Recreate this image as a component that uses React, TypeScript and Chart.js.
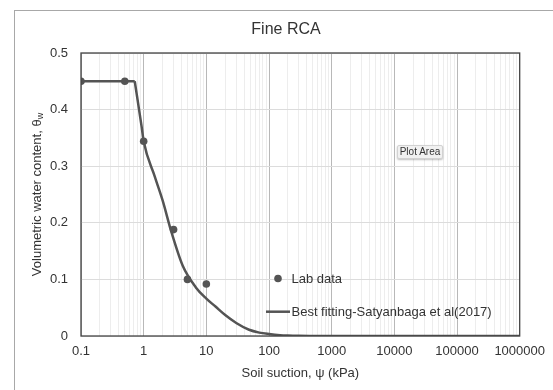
import React, { useEffect, useRef } from 'react';
import { Chart, registerables } from 'chart.js';

Chart.register(...registerables);

const CHART_TITLE = 'Fine RCA';
const X_TITLE = 'Soil suction, ψ (kPa)';
const Y_TITLE_MAIN = 'Volumetric water content, θ';
const Y_TITLE_SUB = 'w';

const LAB_LABEL = 'Lab data';
const LAB_SUCTION = [0.1, 0.5, 1, 3, 5, 10];
const LAB_THETA = [0.45, 0.45, 0.344, 0.188, 0.1, 0.092];

const FIT_LABEL = 'Best fitting-Satyanbaga et al(2017)';
// saturated plateau up to the air-entry point
const FIT_PLATEAU_SUCTION = [0.1, 0.72];
const FIT_PLATEAU_THETA = [0.45, 0.45];
// desaturation part of the fitted curve
const FIT_SUCTION = [0.72, 0.93, 1, 1.5, 2, 2.8, 4.2, 6.9, 10, 14, 20, 30, 48, 70, 100, 150, 200, 300, 500, 1000, 10000, 100000, 1000000];
const FIT_THETA = [0.45, 0.369, 0.344, 0.282, 0.24, 0.182, 0.124, 0.085, 0.066, 0.052, 0.037, 0.023, 0.011, 0.006, 0.0035, 0.0015, 0.0008, 0.0003, 0.0001, 0, 0, 0, 0];

const X_TICK_LABELS = ['0.1', '1', '10', '100', '1000', '10000', '100000', '1000000'];
const X_MINOR_MULTIPLIERS = [2, 3, 4, 5, 6, 7, 8, 9];
const Y_TICK_LABELS = ['0', '0.1', '0.2', '0.3', '0.4', '0.5'];

const FONT = '"Liberation Sans", Arial, Helvetica, sans-serif';
const INK = '#333333';
const MARK = '#545454';

type Tick = { value: number; major: boolean; label: string };

function buildXTicks(): Tick[] {
  const out: Tick[] = [];
  const majors = X_TICK_LABELS.map(Number);
  majors.forEach((m, i) => {
    out.push({ value: m, major: true, label: X_TICK_LABELS[i] });
    if (i < majors.length - 1) {
      X_MINOR_MULTIPLIERS.forEach((k) => {
        out.push({ value: Number((m * k).toPrecision(6)), major: false, label: '' });
      });
    }
  });
  return out;
}

const decorPlugin = {
  id: 'decor',
  afterDraw(chart: any) {
    const { ctx, chartArea: a } = chart;
    ctx.save();
    // plot border
    ctx.strokeStyle = '#444444';
    ctx.lineWidth = 1.3;
    ctx.strokeRect(a.left, a.top, a.right - a.left, a.bottom - a.top);

    ctx.fillStyle = INK;
    ctx.textBaseline = 'middle';

    // title
    ctx.font = `16px ${FONT}`;
    ctx.textAlign = 'center';
    ctx.fillText(CHART_TITLE, 286, 30);

    // x title
    ctx.font = `13px ${FONT}`;
    ctx.fillText(X_TITLE, (a.left + a.right) / 2, 373);

    // y title (rotated, with subscript)
    ctx.save();
    ctx.translate(37, (a.top + a.bottom) / 2);
    ctx.rotate(-Math.PI / 2);
    ctx.font = `13px ${FONT}`;
    const wMain = ctx.measureText(Y_TITLE_MAIN).width;
    ctx.font = `9px ${FONT}`;
    const wSub = ctx.measureText(Y_TITLE_SUB).width;
    const total = wMain + wSub;
    ctx.textAlign = 'left';
    ctx.font = `13px ${FONT}`;
    ctx.fillText(Y_TITLE_MAIN, -total / 2, 0);
    ctx.font = `9px ${FONT}`;
    ctx.fillText(Y_TITLE_SUB, -total / 2 + wMain, 4);
    ctx.restore();

    // legend
    const ds = chart.data.datasets;
    ctx.font = `13px ${FONT}`;
    ctx.textAlign = 'left';
    ctx.fillStyle = MARK;
    ctx.beginPath();
    ctx.arc(278, 278.5, 3.8, 0, Math.PI * 2);
    ctx.fill();
    ctx.fillStyle = INK;
    ctx.fillText(ds[0].label, 291.5, 279);

    ctx.strokeStyle = MARK;
    ctx.lineWidth = 2.5;
    ctx.beginPath();
    ctx.moveTo(266, 311.7);
    ctx.lineTo(290, 311.7);
    ctx.stroke();
    ctx.fillText(ds[1].label, 291.5, 312);

    ctx.restore();
  },
};

export default function App() {
  const canvasRef = useRef<HTMLCanvasElement | null>(null);

  useEffect(() => {
    if (!canvasRef.current) return;
    const xTicks = buildXTicks();
    const lineStyle = {
      type: 'line',
      borderColor: MARK,
      borderWidth: 2.5,
      pointRadius: 0,
      fill: false,
      order: 1,
    };
    const chart = new Chart(canvasRef.current, {
      type: 'scatter',
      data: {
        datasets: [
          {
            label: LAB_LABEL,
            data: LAB_SUCTION.map((x, i) => ({ x, y: LAB_THETA[i] })),
            backgroundColor: MARK,
            borderWidth: 0,
            pointRadius: 3.8,
            showLine: false,
            order: 0,
          },
          {
            ...lineStyle,
            label: FIT_LABEL,
            data: FIT_SUCTION.map((x, i) => ({ x, y: FIT_THETA[i] })),
            cubicInterpolationMode: 'monotone',
          } as any,
          {
            ...lineStyle,
            label: FIT_LABEL,
            data: FIT_PLATEAU_SUCTION.map((x, i) => ({ x, y: FIT_PLATEAU_THETA[i] })),
            tension: 0,
          } as any,
        ],
      },
      options: {
        animation: false,
        responsive: false,
        devicePixelRatio: 1,
        layout: { padding: { left: 0, top: 53, right: 32, bottom: 0 } },
        plugins: {
          legend: { display: false },
          title: { display: false },
          tooltip: { enabled: false },
        },
        scales: {
          x: {
            type: 'logarithmic',
            min: 0.1,
            max: 1000000,
            afterBuildTicks: (scale: any) => {
              scale.ticks = xTicks.map((t) => ({ value: t.value, major: t.major }));
            },
            afterFit: (scale: any) => {
              scale.height = 54;
            },
            ticks: {
              autoSkip: false,
              maxRotation: 0,
              minRotation: 0,
              padding: 8,
              color: INK,
              font: { size: 13, family: FONT },
              callback: (_v: any, index: number) => (xTicks[index] ? xTicks[index].label : ''),
            },
            grid: {
              drawTicks: false,
              lineWidth: 1,
              color: (c: any) => (c.tick && c.tick.major ? '#b8b8b8' : '#ededed'),
            },
            border: { display: false },
          },
          y: {
            type: 'linear',
            min: 0,
            max: 0.5,
            afterFit: (scale: any) => {
              scale.width = 81;
            },
            ticks: {
              stepSize: 0.1,
              padding: 13,
              color: INK,
              font: { size: 13, family: FONT },
              callback: (_v: any, index: number) => Y_TICK_LABELS[index] ?? '',
            },
            grid: {
              drawTicks: false,
              color: '#dcdcdc',
              lineWidth: 1,
            },
            border: { display: false },
          },
        },
      },
      plugins: [decorPlugin],
    });
    return () => chart.destroy();
  }, []);

  return (
    <div
      style={{
        position: 'fixed',
        left: 0,
        top: 0,
        width: 553,
        height: 390,
        background: '#ffffff',
        overflow: 'hidden',
      }}
    >
      <div
        style={{
          position: 'absolute',
          left: 14,
          top: 10,
          width: 600,
          height: 500,
          border: '1px solid #a8a8a8',
          boxSizing: 'border-box',
        }}
      />
      <canvas
        ref={canvasRef}
        width={553}
        height={390}
        style={{ position: 'absolute', left: 0, top: 0, width: 553, height: 390 }}
      />
      <div
        style={{
          position: 'absolute',
          left: 397,
          top: 145,
          width: 46,
          height: 14,
          boxSizing: 'border-box',
          background: '#f1f1f1',
          border: '1px solid #d2d2d2',
          borderRadius: 2,
          boxShadow: '0 1px 2px rgba(0,0,0,0.25)',
          font: `10px ${FONT}`,
          color: INK,
          lineHeight: '12px',
          textAlign: 'center',
          whiteSpace: 'nowrap',
        }}
      >
        Plot Area
      </div>
    </div>
  );
}
